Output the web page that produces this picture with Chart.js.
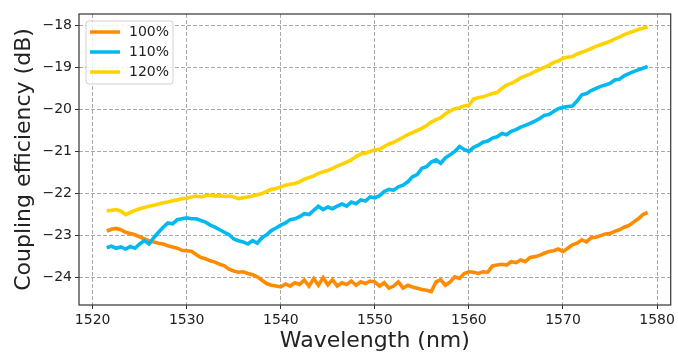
<!DOCTYPE html>
<html>
<head>
<meta charset="utf-8">
<script src="https://cdn.jsdelivr.net/npm/chart.js@4.4.0/dist/chart.umd.min.js"></script>
<style>
  html, body { margin: 0; padding: 0; background: #fff; }
  canvas { display: block; }
</style>
</head>
<body>
<canvas id="myChart" width="678" height="353"></canvas>
<script>
// wavelength grid: 1521.5 nm to 1579 nm, every 0.5 nm
const startNm = 1521.5;
const stepNm = 0.5;

const seriesNames = ["100%", "110%", "120%"];

const eff100 = [
  -22.89,-22.85,-22.83,-22.86,-22.92,-22.95,-22.98,-23.03,-23.08,-23.12,
  -23.15,-23.18,-23.2,-23.24,-23.27,-23.3,-23.35,-23.36,-23.37,-23.45,
  -23.52,-23.55,-23.6,-23.63,-23.68,-23.72,-23.8,-23.84,-23.87,-23.86,
  -23.9,-23.93,-23.98,-24.06,-24.14,-24.18,-24.2,-24.22,-24.15,-24.2,
  -24.12,-24.16,-24.06,-24.2,-24.02,-24.18,-24.0,-24.17,-24.05,-24.2,
  -24.12,-24.16,-24.08,-24.18,-24.1,-24.14,-24.08,-24.1,-24.2,-24.12,
  -24.25,-24.2,-24.1,-24.25,-24.18,-24.22,-24.25,-24.28,-24.3,-24.33,
  -24.1,-24.05,-24.18,-24.1,-23.98,-24.02,-23.9,-23.86,-23.87,-23.9,
  -23.86,-23.87,-23.72,-23.7,-23.68,-23.7,-23.62,-23.64,-23.58,-23.62,
  -23.52,-23.5,-23.47,-23.42,-23.38,-23.36,-23.32,-23.38,-23.3,-23.22,
  -23.18,-23.1,-23.15,-23.05,-23.04,-23.0,-22.96,-22.95,-22.9,-22.86,
  -22.8,-22.76,-22.68,-22.6,-22.5,-22.45
];

const eff110 = [
  -23.29,-23.25,-23.3,-23.27,-23.32,-23.26,-23.3,-23.2,-23.12,-23.2,
  -23.05,-22.92,-22.8,-22.7,-22.72,-22.62,-22.6,-22.58,-22.6,-22.6,
  -22.64,-22.68,-22.75,-22.8,-22.86,-22.92,-22.98,-23.08,-23.12,-23.15,
  -23.2,-23.12,-23.18,-23.05,-22.98,-22.88,-22.82,-22.75,-22.7,-22.62,
  -22.6,-22.55,-22.48,-22.5,-22.4,-22.3,-22.38,-22.32,-22.36,-22.3,
  -22.25,-22.3,-22.2,-22.24,-22.15,-22.18,-22.08,-22.1,-22.05,-21.95,
  -21.9,-21.92,-21.84,-21.8,-21.72,-21.6,-21.55,-21.4,-21.36,-21.25,
  -21.2,-21.28,-21.15,-21.08,-21.0,-20.88,-20.95,-21.0,-20.9,-20.85,
  -20.78,-20.75,-20.68,-20.65,-20.57,-20.6,-20.52,-20.48,-20.42,-20.38,
  -20.33,-20.28,-20.22,-20.14,-20.12,-20.05,-19.98,-19.95,-19.93,-19.92,
  -19.8,-19.65,-19.62,-19.55,-19.5,-19.45,-19.42,-19.38,-19.3,-19.28,
  -19.2,-19.15,-19.1,-19.06,-19.02,-18.98
];

const eff120 = [
  -22.41,-22.4,-22.38,-22.42,-22.5,-22.45,-22.4,-22.36,-22.33,-22.3,
  -22.28,-22.25,-22.22,-22.2,-22.17,-22.15,-22.12,-22.11,-22.08,-22.06,
  -22.08,-22.05,-22.04,-22.06,-22.05,-22.07,-22.06,-22.08,-22.12,-22.1,
  -22.08,-22.06,-22.03,-22.0,-21.95,-21.9,-21.88,-21.84,-21.8,-21.78,
  -21.76,-21.72,-21.66,-21.62,-21.58,-21.52,-21.48,-21.45,-21.4,-21.35,
  -21.3,-21.25,-21.2,-21.12,-21.06,-21.04,-21.0,-20.96,-20.95,-20.88,
  -20.82,-20.78,-20.72,-20.66,-20.6,-20.55,-20.5,-20.45,-20.38,-20.3,
  -20.24,-20.2,-20.1,-20.04,-19.98,-19.96,-19.92,-19.9,-19.75,-19.72,
  -19.7,-19.66,-19.62,-19.6,-19.5,-19.42,-19.38,-19.32,-19.25,-19.2,
  -19.16,-19.1,-19.05,-19.0,-18.95,-18.88,-18.85,-18.78,-18.76,-18.74,
  -18.68,-18.64,-18.6,-18.55,-18.5,-18.46,-18.42,-18.38,-18.32,-18.28,
  -18.22,-18.18,-18.14,-18.1,-18.07,-18.04
];

const xTicks = [1520, 1530, 1540, 1550, 1560, 1570, 1580];
const yTicks = [-24, -23, -22, -21, -20, -19, -18];

const wavelength = eff100.map((_, i) => startNm + stepNm * i);

function pts(vals) {
  return vals.map((v, i) => ({ x: wavelength[i], y: v }));
}

const colors = ["rgb(255,140,0)", "rgb(0,185,240)", "rgb(255,210,0)"];
const FONT = "'DejaVu Sans', sans-serif";
const minus = v => String(v).replace("-", "\u2212");

// frame + matplotlib-like legend box
const framePlugin = {
  id: "frame",
  afterDraw(chart) {
    const c = chart.ctx, a = chart.chartArea;
    c.save();
    c.strokeStyle = "#333";
    c.lineWidth = 1.2;
    c.strokeRect(a.left, a.top, a.right - a.left, a.bottom - a.top);

    const bx = a.left + 7, by = a.top + 7, bw = 87, bh = 63;
    c.beginPath();
    c.roundRect(bx, by, bw, bh, 3);
    c.fillStyle = "rgba(255,255,255,0.85)";
    c.fill();
    c.strokeStyle = "#d0d0d0";
    c.lineWidth = 1;
    c.stroke();

    c.font = "14px " + FONT;
    c.textBaseline = "middle";
    chart.data.datasets.forEach((ds, i) => {
      const y = by + 11 + i * 20;
      c.strokeStyle = ds.borderColor;
      c.lineWidth = 3.5;
      c.beginPath();
      c.moveTo(bx + 4, y);
      c.lineTo(bx + 34, y);
      c.stroke();
      c.fillStyle = "#222";
      c.fillText(ds.label, bx + 43, y);
    });
    c.restore();
  }
};

var ctx = document.getElementById("myChart").getContext("2d");

var myChart = new Chart(ctx, {
  type: "line",
  data: {
    datasets: [
      { label: seriesNames[0], data: pts(eff100), borderColor: colors[0], order: 3 },
      { label: seriesNames[1], data: pts(eff110), borderColor: colors[1], order: 2 },
      { label: seriesNames[2], data: pts(eff120), borderColor: colors[2], order: 1 }
    ]
  },
  options: {
    responsive: false,
    animation: false,
    parsing: false,
    layout: { padding: { left: 0, top: 14, right: 5, bottom: 0 } },
    elements: {
      line: { borderWidth: 3.6, tension: 0 },
      point: { radius: 0 }
    },
    plugins: {
      legend: { display: false },
      tooltip: { enabled: false }
    },
    scales: {
      x: {
        type: "linear",
        min: 1518.55,
        max: 1581.45,
        afterBuildTicks: axis => { axis.ticks = xTicks.map(v => ({ value: v })); },
        afterFit: axis => { axis.height = 48; },
        ticks: {
          font: { family: FONT, size: 14 },
          color: "#222",
          padding: 3,
          maxRotation: 0,
          callback: v => String(v)
        },
        grid: {
          color: "#a8a8a8",
          lineWidth: 1,
          tickLength: 4,
          tickColor: "#333",
          tickBorderDash: []
        },
        border: { display: false, dash: [4, 2] },
        title: {
          display: true,
          text: "Wavelength (nm)",
          font: { family: FONT, size: 22, lineHeight: 1.05 },
          color: "#222",
          padding: { top: 0, bottom: 0 }
        }
      },
      y: {
        type: "linear",
        min: -24.65,
        max: -17.73,
        afterBuildTicks: axis => { axis.ticks = yTicks.map(v => ({ value: v })); },
        afterFit: axis => { axis.width = 79; },
        ticks: {
          font: { family: FONT, size: 14 },
          color: "#222",
          padding: 3,
          callback: v => minus(v)
        },
        grid: {
          color: "#a8a8a8",
          lineWidth: 1,
          tickLength: 4,
          tickColor: "#333",
          tickBorderDash: []
        },
        border: { display: false, dash: [4, 2] },
        title: {
          display: true,
          text: "Coupling efficiency (dB)",
          font: { family: FONT, size: 22, lineHeight: 1.2 },
          color: "#222",
          padding: { top: 11, bottom: 0 }
        }
      }
    }
  },
  plugins: [framePlugin]
});
</script>
</body>
</html>
